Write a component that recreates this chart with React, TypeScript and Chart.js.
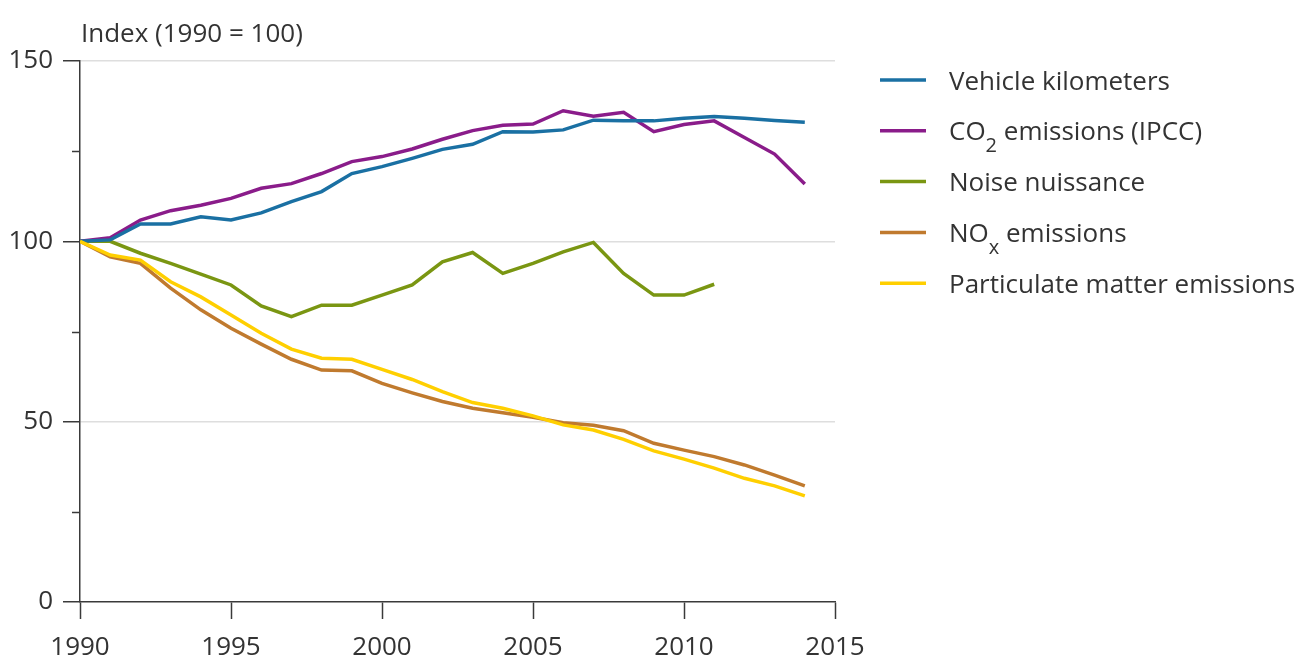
import React, { useEffect, useRef } from "react";
import { Chart, registerables } from "chart.js";

Chart.register(...registerables);

const years = [
  1990, 1991, 1992, 1993, 1994, 1995, 1996, 1997, 1998, 1999, 2000, 2001, 2002,
  2003, 2004, 2005, 2006, 2007, 2008, 2009, 2010, 2011, 2012, 2013, 2014,
];

const vehicleKm = [
  100, 100.4, 104.8, 104.8, 106.8, 105.9, 107.9, 111, 113.8, 118.8, 120.7, 123,
  125.5, 126.9, 130.4, 130.3, 130.9, 133.6, 133.4, 133.4, 134.1, 134.6, 134.1,
  133.5, 133,
];
const co2 = [
  100, 101, 105.9, 108.5, 110, 111.9, 114.7, 116, 118.8, 122.1, 123.5, 125.6,
  128.3, 130.7, 132.2, 132.5, 136.2, 134.7, 135.8, 130.4, 132.4, 133.4, 128.8,
  124.2, 115.9,
];
const noise = [
  100, 100, 96.7, 93.9, 90.9, 87.9, 82.1, 79.1, 82.3, 82.3, 85.1, 87.9, 94.3,
  96.9, 91.1, 93.9, 97.1, 99.7, 91.1, 85.1, 85.1, 88.1,
];
const nox = [
  100, 95.7, 93.9, 87, 81, 75.9, 71.5, 67.3, 64.3, 64.1, 60.6, 58, 55.6, 53.7,
  52.5, 51.2, 49.7, 49, 47.5, 44, 42.1, 40.3, 38, 35.2, 32.2,
];
const pm = [
  100, 96.2, 94.8, 88.8, 84.6, 79.6, 74.5, 70.1, 67.6, 67.3, 64.5, 61.7, 58.3,
  55.3, 53.7, 51.6, 49.1, 47.7, 45.1, 41.9, 39.6, 37.1, 34.3, 32.2, 29.4,
];

// legend labels: parts, with optional subscript
const seriesLabels = [
  [{ t: "Vehicle kilometers" }],
  [{ t: "CO" }, { t: "2", sub: true }, { t: " emissions (IPCC)" }],
  [{ t: "Noise nuissance" }],
  [{ t: "NO" }, { t: "x", sub: true }, { t: " emissions" }],
  [{ t: "Particulate matter emissions" }],
];
const seriesValues = [vehicleKm, co2, noise, nox, pm];
const seriesColors = ["#1a70a3", "#8a1c8a", "#7a9612", "#c07a2e", "#ffcf00"];
const seriesOrder = [1, 2, 3, 4, 0];

const yTickLabels = [0, 50, 100, 150];
const yMinorTicks = [25, 75, 125];
const xTickLabels = [1990, 1995, 2000, 2005, 2010, 2015];

const titleText = "Index (1990 = 100)";
const FONT = "'Open Sans', 'Noto Sans', sans-serif";
const TEXT = "#333333";
const AXIS = "#3a3a3a";

const decorPlugin = {
  id: "decor",
  afterDraw(chart: any) {
    const ctx = chart.ctx;
    const y = chart.scales.y;
    ctx.save();
    // minor ticks
    ctx.strokeStyle = AXIS;
    ctx.lineWidth = 1.5;
    yMinorTicks.forEach((v) => {
      const py = Math.round(y.getPixelForValue(v)) + 0.5;
      ctx.beginPath();
      ctx.moveTo(y.right - 8, py);
      ctx.lineTo(y.right, py);
      ctx.stroke();
    });
    // title
    ctx.fillStyle = TEXT;
    ctx.font = `26px ${FONT}`;
    ctx.textAlign = "left";
    ctx.textBaseline = "alphabetic";
    ctx.fillText(titleText, 81, 42);
    // legend
    const rowY0 = 80;
    const rowGap = 50.8;
    seriesLabels.forEach((parts, i) => {
      const cy = rowY0 + i * rowGap;
      ctx.strokeStyle = seriesColors[i];
      ctx.lineWidth = 3.5;
      ctx.beginPath();
      ctx.moveTo(880, cy);
      ctx.lineTo(926, cy);
      ctx.stroke();
      let x = 949;
      const base = cy + 9.5;
      parts.forEach((p: any) => {
        if (p.sub) {
          ctx.font = `20px ${FONT}`;
          ctx.fillText(p.t, x, base + 12);
          x += ctx.measureText(p.t).width;
        } else {
          ctx.font = `26px ${FONT}`;
          ctx.fillText(p.t, x, base);
          x += ctx.measureText(p.t).width;
        }
      });
    });
    ctx.restore();
  },
};

export default function App() {
  const ref = useRef<HTMLCanvasElement | null>(null);

  useEffect(() => {
    document.body.style.margin = "0";
    const canvas = ref.current;
    if (!canvas) return;
    const chart = new Chart(canvas, {
      type: "line",
      data: {
        datasets: seriesValues.map((vals, i) => ({
          label: seriesLabels[i].map((p) => p.t).join(""),
          data: vals.map((v, k) => ({ x: years[k], y: v })),
          borderColor: seriesColors[i],
          backgroundColor: seriesColors[i],
          borderWidth: 3.5,
          pointRadius: 0,
          tension: 0,
          fill: false,
          order: seriesOrder[i],
        })),
      },
      options: {
        animation: false,
        responsive: true,
        maintainAspectRatio: false,
        layout: { padding: { top: 61, right: 465, left: 0, bottom: 0 } },
        plugins: {
          legend: { display: false },
          tooltip: { enabled: false },
          title: { display: false },
        },
        scales: {
          x: {
            type: "linear",
            min: xTickLabels[0],
            max: xTickLabels[xTickLabels.length - 1],
            afterBuildTicks: (scale: any) => {
              scale.ticks = xTickLabels.map((v) => ({ value: v }));
            },
            afterFit: (scale: any) => {
              scale.height = 55;
            },
            ticks: {
              color: TEXT,
              font: { family: FONT, size: 26 },
              padding: 13,
              maxRotation: 0,
              autoSkip: false,
              callback: (v: any) => String(v),
            },
            grid: {
              drawOnChartArea: false,
              drawTicks: true,
              tickLength: 17,
              tickColor: AXIS,
              tickWidth: 1.5,
            },
            border: { display: true, color: AXIS, width: 1.5 },
          },
          y: {
            type: "linear",
            min: 0,
            max: 150,
            afterBuildTicks: (scale: any) => {
              scale.ticks = yTickLabels.map((v) => ({ value: v }));
            },
            afterFit: (scale: any) => {
              scale.width = 80;
            },
            ticks: {
              color: TEXT,
              font: { family: FONT, size: 26 },
              padding: 10,
              callback: (v: any) => String(v),
            },
            grid: {
              color: (c: any) =>
                c.tick && c.tick.value !== 0 ? "#dedede" : "rgba(0,0,0,0)",
              lineWidth: 1.5,
              drawTicks: true,
              tickLength: 17,
              tickColor: AXIS,
              tickWidth: 1.5,
            },
            border: { display: true, color: AXIS, width: 1.5 },
          },
        },
      },
      plugins: [decorPlugin],
    });
    return () => chart.destroy();
  }, []);

  return (
    <div style={{ width: 1300, height: 657, position: "relative", background: "#fff" }}>
      <canvas ref={ref} />
    </div>
  );
}
